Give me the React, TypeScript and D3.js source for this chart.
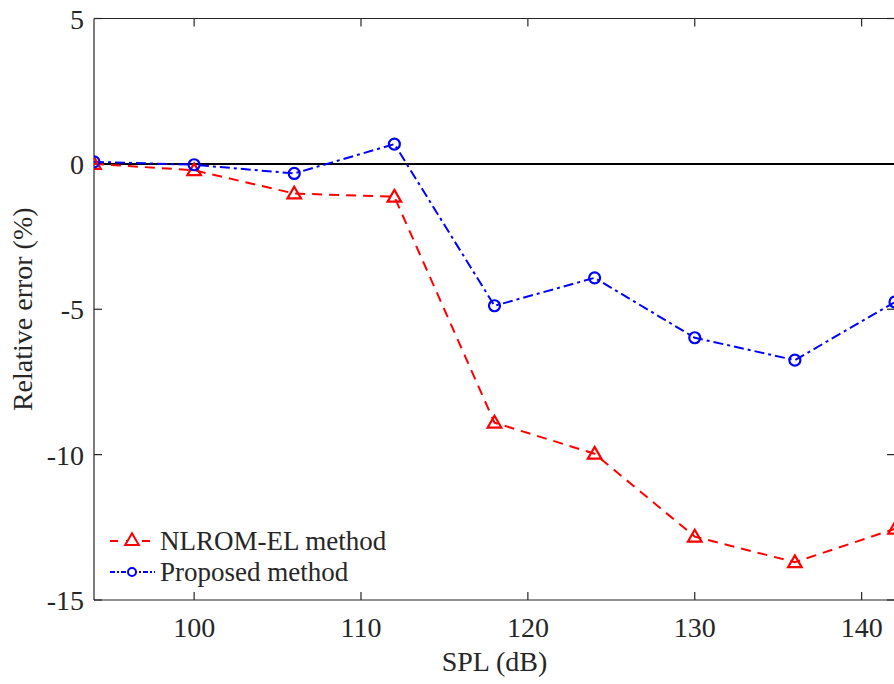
import React from "react";
import * as d3 from "d3";

const spl = [94, 100, 106, 112, 118, 124, 130, 136, 142];
const nlromEl = [0, -0.22, -1.02, -1.13, -8.9, -9.97, -12.82, -13.7, -12.55];
const proposed = [0.07, -0.03, -0.33, 0.68, -4.88, -3.92, -5.98, -6.75, -4.75];
const xTicks = [100, 110, 120, 130, 140];
const yTicks = [5, 0, -5, -10, -15];
const seriesNames = ["NLROM-EL method", "Proposed method"];

const W = 894, H = 684;
const L = 94, R = 895, T = 18.5, B = 600;
const FONT = "'Liberation Serif', 'Times New Roman', Tinos, 'DejaVu Serif', serif";
const AX = "#262626";
const ts = { fontFamily: FONT };

export default function App() {
  const x = d3.scaleLinear().domain([94, 142]).range([L, R]);
  const y = d3.scaleLinear().domain([-15, 5]).range([B, T]);
  const line = d3.line<number>().x((_, i) => x(spl[i])).y((d) => y(d));
  const tri = d3.symbol().type(d3.symbolTriangle).size(80)();
  return (
    <svg width={W} height={H} style={{ position: "absolute", left: 0, top: 0, fontFamily: FONT }}>
      <rect width={W} height={H} fill="#fff" />
      <defs>
        <clipPath id="plot"><rect x={L} y={T} width={R - L} height={B - T} /></clipPath>
      </defs>
      <line x1={L} x2={R} y1={T} y2={T} stroke={AX} strokeWidth={1.2} />
      <line x1={L} x2={R} y1={B} y2={B} stroke={AX} strokeWidth={1.2} />
      <line x1={L} x2={L} y1={T} y2={B} stroke={AX} strokeWidth={1.2} />
      <line x1={R} x2={R} y1={T} y2={B} stroke={AX} strokeWidth={1.2} />
      {xTicks.map((t) => (
        <g key={"x" + t}>
          <line x1={x(t)} x2={x(t)} y1={B} y2={B - 8} stroke={AX} strokeWidth={1.2} />
          <line x1={x(t)} x2={x(t)} y1={T} y2={T + 8} stroke={AX} strokeWidth={1.2} />
          <text x={x(t)} y={B + 37} fontSize={28} style={ts} fill={AX} textAnchor="middle">{t}</text>
        </g>
      ))}
      {yTicks.map((t) => (
        <g key={"y" + t}>
          <line x1={L} x2={L + 8} y1={y(t)} y2={y(t)} stroke={AX} strokeWidth={1.2} />
          <line x1={R} x2={R - 8} y1={y(t)} y2={y(t)} stroke={AX} strokeWidth={1.2} />
          <text x={L - 10} y={y(t) + 10} fontSize={28} style={ts} fill={AX} textAnchor="end">{t}</text>
        </g>
      ))}
      <text x={(L + R) / 2} y={671} fontSize={28} style={ts} fill={AX} textAnchor="middle">SPL (dB)</text>
      <text transform={`translate(32,${(T + B) / 2}) rotate(-90)`} fontSize={28} style={ts} fill={AX} textAnchor="middle">Relative error (%)</text>
      <g clipPath="url(#plot)">
        <line x1={L} x2={R} y1={y(0)} y2={y(0)} stroke="#000" strokeWidth={2} />
        <path d={line(nlromEl) || ""} fill="none" stroke="#ff0000" strokeWidth={2} strokeDasharray="10,7" />
        <path d={line(proposed) || ""} fill="none" stroke="#0000ff" strokeWidth={2} strokeDasharray="10,4,3,4" />
        {nlromEl.map((v, i) => (
          <path key={"r" + i} d={tri || ""} transform={`translate(${x(spl[i])},${y(v) + 1})`} fill="none" stroke="#ff0000" strokeWidth={2.2} />
        ))}
        {proposed.map((v, i) => (
          <circle key={"b" + i} cx={x(spl[i])} cy={y(v)} r={5.5} fill="none" stroke="#0000ff" strokeWidth={2.2} />
        ))}
      </g>
      <g>
        <line x1={110} x2={155} y1={541} y2={541} stroke="#ff0000" strokeWidth={2} strokeDasharray="8,8" />
        <path d={tri || ""} transform="translate(132,541)" fill="#fff" stroke="#ff0000" strokeWidth={2} />
        <text x={160} y={550} fontSize={27} style={ts} fill={AX}>{seriesNames[0]}</text>
        <line x1={110} x2={155} y1={572} y2={572} stroke="#0000ff" strokeWidth={2} strokeDasharray="5,2,2,2" />
        <circle cx={132} cy={572} r={4} fill="#fff" stroke="#0000ff" strokeWidth={2} />
        <text x={160} y={581} fontSize={27} style={ts} fill={AX}>{seriesNames[1]}</text>
      </g>
    </svg>
  );
}
